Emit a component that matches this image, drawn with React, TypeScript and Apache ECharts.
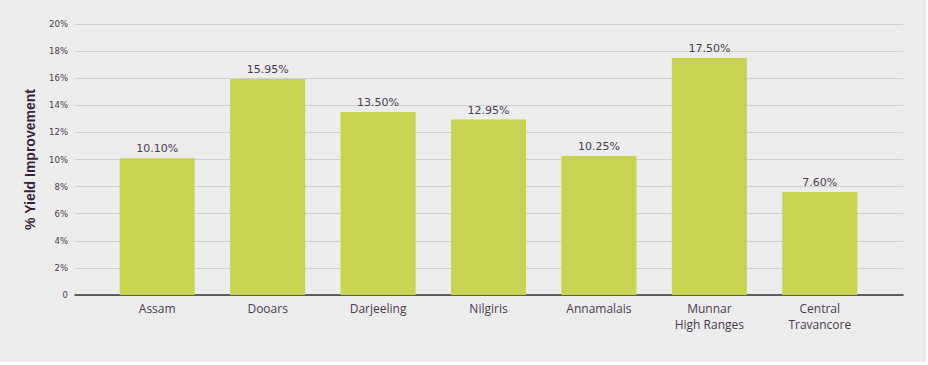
import React, { useEffect, useRef } from "react";
import * as echarts from "echarts";

const categories = ["Assam", "Dooars", "Darjeeling", "Nilgiris", "Annamalais", "Munnar\nHigh Ranges", "Central\nTravancore"];
const values = [10.1, 15.95, 13.5, 12.95, 10.25, 17.5, 7.6];
const yTicks = { min: 0, max: 20, interval: 2 };

export default function App() {
  const ref = useRef<HTMLDivElement>(null);
  useEffect(() => {
    const chart = echarts.init(ref.current!, null, { renderer: "svg" });
    const labelColor = "#4b3b50";
    chart.setOption({
      animation: false,
      backgroundColor: "transparent",
      grid: [
        { left: 102, right: 51, top: 24, bottom: 67 },
        { left: 75, right: 23, top: 24, bottom: 67 },
      ],
      xAxis: [
        {
          type: "category",
          gridIndex: 0,
          data: categories,
          axisLine: { show: false },
          axisTick: { show: false },
          axisLabel: {
            color: labelColor,
            fontFamily: "Open Sans",
            fontSize: 12,
            lineHeight: 16,
            margin: 5,
            interval: 0,
          },
        },
        {
          type: "value",
          gridIndex: 1,
          min: 0,
          max: 1,
          axisLine: { show: true, onZero: false, lineStyle: { color: "#333333", width: 1.5 } },
          axisTick: { show: false },
          axisLabel: { show: false },
          splitLine: { show: false },
        },
      ],
      yAxis: [
        {
          type: "value",
          gridIndex: 0,
          min: yTicks.min,
          max: yTicks.max,
          interval: yTicks.interval,
          axisLine: { show: false },
          axisTick: { show: false },
          axisLabel: { show: false },
          splitLine: { show: false },
        },
        {
          type: "value",
          gridIndex: 1,
          min: yTicks.min,
          max: yTicks.max,
          interval: yTicks.interval,
          name: "% Yield Improvement",
          nameLocation: "middle",
          nameGap: 38,
          nameTextStyle: {
            color: "#3a1f3a",
            fontFamily: "Liberation Sans",
            fontWeight: "bold",
            fontSize: 14,
          },
          axisLine: { show: false },
          axisTick: { show: false },
          axisLabel: {
            color: labelColor,
            fontFamily: "DejaVu Sans",
            fontSize: 8.5,
            margin: 7,
            formatter: (v: number) => (v === 0 ? "0" : v + "%"),
          },
          splitLine: { show: true, lineStyle: { color: "#cfd0cf", width: 1.2 } },
        },
      ],
      series: [
        {
          type: "bar",
          xAxisIndex: 0,
          yAxisIndex: 0,
          data: values,
          barWidth: 75,
          itemStyle: { color: "#c8d44f" },
          label: {
            show: true,
            position: "top",
            distance: 4,
            color: labelColor,
            fontFamily: "DejaVu Sans",
            fontSize: 11,
            formatter: (p: any) => p.value.toFixed(2) + "%",
          },
        },
      ],
    });
    return () => chart.dispose();
  }, []);
  return (
    <div style={{ position: "fixed", left: 0, top: 0, width: 928, height: 365, background: "#ffffff" }}>
      <div ref={ref} style={{ width: 926, height: 362, background: "#ebeceb" }} />
    </div>
  );
}
